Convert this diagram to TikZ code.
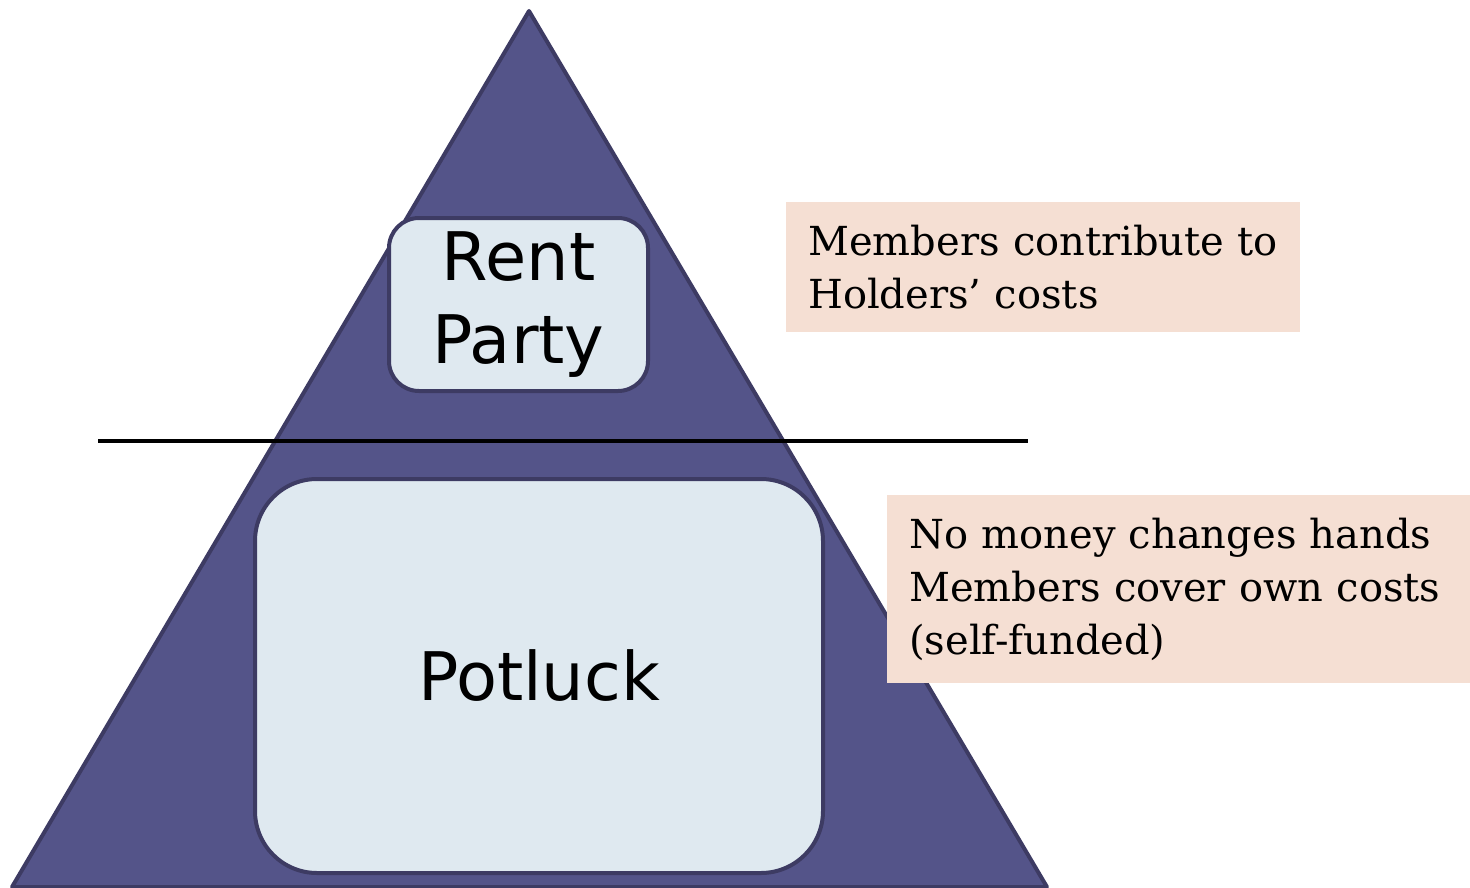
\documentclass[tikz,border=0pt]{standalone}
\usepackage{fontspec}
\setmainfont{DejaVu Serif}
\newfontfamily\boxfont{DejaVu Sans}
\usepackage{tikz}
\definecolor{pyramid}{HTML}{545489}
\definecolor{edge}{HTML}{3D3B63}
\definecolor{boxfill}{HTML}{DFE9F0}
\definecolor{notefill}{HTML}{F5DFD3}

\begin{document}
\begin{tikzpicture}[x=1pt,y=-1pt,
		level/.style={draw=edge,fill=boxfill,line width=4pt,inner sep=0pt,align=center,font=\boxfont\fontsize{67}{83}\selectfont},
		note/.style={fill=notefill,anchor=north west,inner xsep=22pt,inner ysep=0pt,align=left,font=\fontsize{40}{53}\selectfont}]
		\useasboundingbox (0,0) rectangle (1470,888);
		\coordinate (top) at (529,11);
		\coordinate (baseL) at (12,887);
		\coordinate (baseR) at (1047,887);
		\filldraw[fill=pyramid,draw=edge,line width=4pt,line join=round] (top) -- (baseR) -- (baseL) -- cycle;
		\coordinate (divL) at (98,441);
		\coordinate (divR) at (1028,441);
		\draw[line width=4pt] (divL) -- (divR);
		\node[level,rounded corners=30pt,minimum width=259pt,minimum height=173pt] (rent) at (518.5,304.5) {Rent\\Party};
		\node[level,rounded corners=62pt,minimum width=568pt,minimum height=394pt] (potluck) at (539,676) {Potluck};
		\node[note,minimum width=514pt,minimum height=130pt,text width=470pt] (rentnote) at (786,202) {Members contribute to\\Holders’ costs};
		\node[note,minimum width=583pt,minimum height=188pt,text width=539pt] (potlucknote) at (887,495) {No money changes hands\\Members cover own costs\\(self-funded)};
	\end{tikzpicture}
\end{document}
